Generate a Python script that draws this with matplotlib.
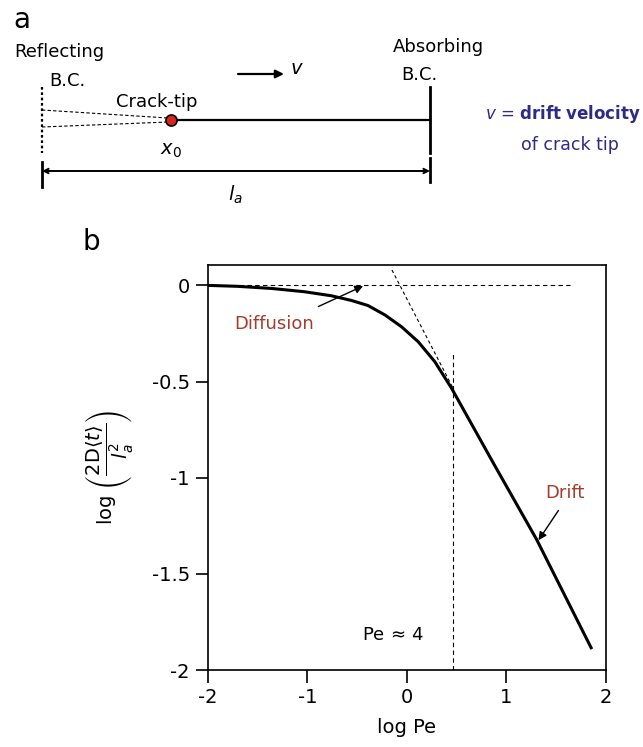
import matplotlib
matplotlib.use("Agg")
import matplotlib.pyplot as plt
import numpy as np

plt.rcParams['font.family'] = ['DejaVu Sans']
plt.rcParams['axes.unicode_minus'] = False

# panel b data
log_pe = [-2.0, -1.70, -1.36, -1.03, -0.76, -0.56, -0.39, -0.22, -0.054, 0.114, 0.28,
          0.45, 0.87, 1.305, 1.86]
log_t = [0.0, -0.005, -0.016, -0.033, -0.054, -0.078, -0.105, -0.154, -0.215, -0.293, -0.396,
         -0.535, -0.924, -1.321, -1.891]

# guide lines
diffusion_x = [-2.0, 1.64]
diffusion_y = [0.0, 0.0]
drift_x = [-0.15, 0.47]
drift_y = [0.08, -0.54]
pe_line_x = [0.466, 0.466]
pe_line_y = [-2.0, -0.357]

xticks = [-2, -1, 0, 1, 2]
yticks = [0, -0.5, -1, -1.5, -2]
ytick_labels = ['0', '-0.5', '-1', '-1.5', '-2']

RED_TEXT = '#A83B2B'
BLUE_TEXT = '#2E2A87'

fig = plt.figure(figsize=(6.43, 7.47), dpi=100)

# ---- panel a: schematic drawn in pixel coordinates ----
sk = fig.add_axes([0, 0, 1, 1])
sk.set_xlim(0, 643)
sk.set_ylim(747, 0)
sk.axis('off')

sk.text(22, 20, 'a', fontsize=20, ha='center', va='center')
sk.text(91, 242, 'b', fontsize=20, ha='center', va='center')

# reflecting boundary (dotted)
sk.plot([42, 42], [87, 153], color='black', lw=1.6, ls=(0, (1.2, 1.2)))
# crack faces converging to the tip
sk.plot([42, 168], [110, 118], color='black', lw=0.8, ls=(0, (3, 2)))
sk.plot([42, 168], [127, 122], color='black', lw=0.8, ls=(0, (3, 2)))
# crack line to absorbing boundary
sk.plot([171, 430], [120, 120], color='black', lw=1.6)
sk.plot([430, 430], [87, 153], color='black', lw=2)
sk.plot([430, 430], [158, 182], color='black', lw=2)
sk.plot([42, 42], [162, 187], color='black', lw=2)
sk.plot([171], [120], 'o', ms=8, mfc='#D8261E', mec='black', mew=1.2)
# length arrow
sk.annotate('', xy=(42, 171), xytext=(430, 171),
            arrowprops=dict(arrowstyle='<->', lw=1.4, color='black',
                            shrinkA=0, shrinkB=0, mutation_scale=8))
# velocity arrow
sk.annotate('', xy=(284, 74), xytext=(238, 74),
            arrowprops=dict(arrowstyle='-|>', lw=1.6, color='black',
                            shrinkA=0, shrinkB=0, mutation_scale=12))
sk.text(297, 69, r'$v$', fontsize=14, ha='center', va='center')

sk.text(59, 52, 'Reflecting', fontsize=13, ha='center', va='center')
sk.text(67, 81, 'B.C.', fontsize=13, ha='center', va='center')
sk.text(157, 102, 'Crack-tip', fontsize=13, ha='center', va='center')
sk.text(171, 150, r'$x_0$', fontsize=14, ha='center', va='center')
sk.text(235, 195, r'$l_a$', fontsize=14, ha='center', va='center')
sk.text(438, 47, 'Absorbing', fontsize=13, ha='center', va='center')
sk.text(419, 75, 'B.C.', fontsize=13, ha='center', va='center')
sk.text(641, 114, r'$v$ = $\mathbf{drift\ velocity}$', fontsize=12,
        ha='right', va='center', color=BLUE_TEXT)
sk.text(570, 145, 'of crack tip', fontsize=12.5, ha='center', va='center', color=BLUE_TEXT)

# ---- panel b ----
ax = fig.add_axes([0.3235, 0.103, 0.6185, 0.542])
ax.plot(diffusion_x, diffusion_y, color='black', lw=0.8, ls=(0, (4, 3)))
ax.plot(drift_x, drift_y, color='black', lw=0.8, ls=(0, (3, 2.5)))
ax.plot(pe_line_x, pe_line_y, color='black', lw=0.8, ls=(0, (4, 3)))
ax.plot(log_pe, log_t, color='black', lw=2.2, solid_capstyle='butt', solid_joinstyle='round')

ax.annotate('', xy=(-0.44, -0.003), xytext=(-0.89, -0.11),
            arrowprops=dict(arrowstyle='-|>', lw=1.0, color='black',
                            shrinkA=0, shrinkB=0, mutation_scale=12))
ax.text(-1.33, -0.2, 'Diffusion', fontsize=13, color=RED_TEXT, ha='center', va='center')
ax.annotate('', xy=(1.324, -1.325), xytext=(1.525, -1.17),
            arrowprops=dict(arrowstyle='-|>', lw=1.0, color='black',
                            shrinkA=0, shrinkB=0, mutation_scale=12))
ax.text(1.59, -1.08, 'Drift', fontsize=13, color=RED_TEXT, ha='center', va='center')
ax.text(-0.14, -1.82, r'Pe$\,\approx\,$4', fontsize=13, ha='center', va='center')

ax.set_xlim(-2, 2)
ax.set_ylim(-2, 0.105)
ax.set_xticks(xticks)
ax.set_xticklabels([str(t) for t in xticks])
ax.set_yticks(yticks)
ax.set_yticklabels(ytick_labels)
ax.tick_params(direction='out', length=9, width=1.2, labelsize=14, pad=4)
for s in ax.spines.values():
    s.set_linewidth(1.2)
ax.set_xlabel('log Pe', fontsize=14, labelpad=8)
ax.set_ylabel(r'log $\left(\dfrac{2\mathrm{D}\langle t\rangle}{l_a^2}\right)$',
              fontsize=14, labelpad=12)

fig.savefig('out.png', dpi=100)
